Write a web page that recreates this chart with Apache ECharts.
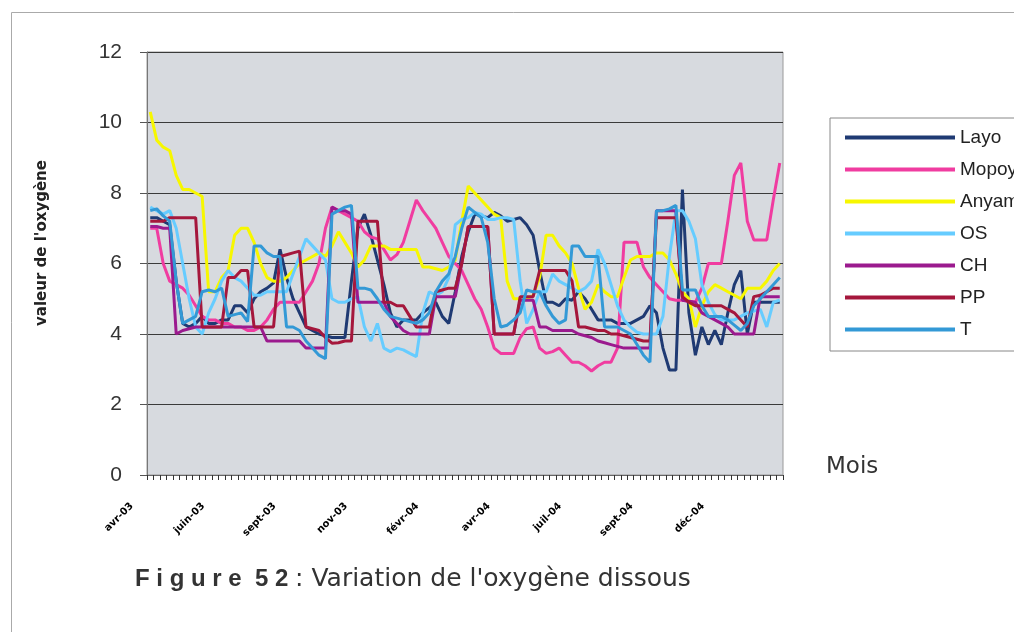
<!DOCTYPE html>
<html>
<head>
<meta charset="utf-8">
<script src="https://cdn.jsdelivr.net/npm/echarts@6/dist/echarts.min.js"></script>
<style>
  html, body { margin: 0; padding: 0; background: #fff; }
  #app { width: 1014px; height: 632px; }
</style>
</head>
<body>
<div id="app"></div>
<script>
// étiquettes des mois (une tous les 11 relevés)
const moisLabels = ['avr-03', 'juin-03', 'sept-03', 'nov-03', 'févr-04', 'avr-04', 'juil-04', 'sept-04', 'déc-04'];
const pasMois = 11;
const nbReleves = 98;

// valeurs de l'oxygène dissous par station
const layo = [7.3,7.3,7.2,7.1,5.5,4.3,4.2,4.3,4.5,4.3, 4.3,4.4,4.4,4.8,4.8,4.6,5.0,5.2,5.3,5.45, 6.4,5.6,5.0,4.6,4.2,4.1,4.0,3.95,3.9,3.9, 3.9,5.5,7.0,7.4,6.8,6.1,5.4,4.6,4.2,4.4, 4.4,4.4,4.6,4.75,4.9,4.5,4.3,5.2,6.2,6.9, 7.4,7.35,7.3,7.45,7.35,7.2,7.25,7.3,7.1,6.8, 5.8,4.9,4.9,4.8,5.0,4.96,5.2,5.0,4.7,4.4, 4.4,4.4,4.3,4.3,4.3,4.4,4.5,4.8,4.6,3.6, 2.98,2.98,8.1,4.6,3.4,4.2,3.7,4.1,3.7,4.6, 5.4,5.8,4.0,4.9,4.9,4.9,4.9,4.9];
const mop = [7.0,7.0,6.0,5.5,5.4,5.3,5.1,4.8,4.5,4.4, 4.4,4.3,4.3,4.2,4.2,4.1,4.1,4.2,4.4,4.7, 4.9,4.9,4.9,4.9,5.2,5.5,6.0,7.0,7.6,7.5, 7.4,7.3,7.2,6.9,6.75,6.7,6.4,6.1,6.25,6.6, 7.2,7.8,7.5,7.25,7.0,6.6,6.2,6.0,5.8,5.4, 5.0,4.7,4.2,3.6,3.45,3.45,3.45,3.9,4.15,4.2, 3.6,3.45,3.5,3.6,3.4,3.2,3.2,3.1,2.95,3.1, 3.2,3.2,3.6,6.6,6.6,6.6,5.9,5.6,5.4,5.2, 5.0,4.96,4.96,4.93,4.9,5.3,6.0,6.0,6.0,7.2, 8.5,8.85,7.2,6.67,6.67,6.67,7.8,8.85];
const any = [10.3,9.5,9.3,9.2,8.5,8.1,8.1,8.0,7.9,5.2, 5.2,5.6,5.8,6.8,7.0,7.0,6.6,6.0,5.6,5.5, 5.5,5.6,5.8,6.0,6.1,6.2,6.3,6.2,6.5,6.9, 6.6,6.3,5.9,6.1,6.5,6.5,6.5,6.4,6.4,6.4, 6.4,6.4,5.9,5.9,5.85,5.8,5.9,6.1,7.2,8.2, 8.0,7.8,7.6,7.4,7.3,5.5,5.0,5.0,5.0,5.1, 5.6,6.8,6.8,6.5,6.3,6.0,5.3,4.7,4.9,5.4, 5.2,5.06,5.06,5.6,6.1,6.2,6.2,6.2,6.3,6.3, 6.1,5.7,5.2,5.0,4.2,4.8,5.2,5.4,5.3,5.2, 5.1,5.0,5.3,5.3,5.3,5.5,5.8,6.0];
const os = [7.6,7.5,7.4,7.5,7.0,6.0,5.0,4.2,4.0,4.6, 5.0,5.5,5.8,5.6,5.5,5.3,5.1,5.1,5.2,5.2, 5.2,5.2,5.7,6.2,6.7,6.5,6.3,6.1,5.0,4.9, 4.9,5.0,5.06,4.2,3.8,4.3,3.6,3.5,3.6,3.55, 3.45,3.36,4.6,5.2,5.1,5.2,5.6,7.1,7.25,7.3, 7.45,7.4,7.25,7.25,7.3,7.3,7.25,5.5,4.3,4.7, 5.2,5.2,5.7,5.5,5.4,5.3,5.2,5.3,5.5,6.4, 6.0,5.4,4.8,4.4,4.2,4.05,4.0,4.0,4.0,4.5, 6.2,7.5,7.5,7.2,6.7,5.4,4.9,4.55,4.4,4.4, 4.4,4.5,4.6,4.65,4.7,4.2,4.9,4.96];
const ch = [7.05,7.05,7.0,7.0,4.0,4.1,4.15,4.2,4.2,4.2, 4.2,4.2,4.2,4.2,4.2,4.2,4.2,4.2,3.8,3.8, 3.8,3.8,3.8,3.8,3.6,3.6,3.6,3.6,7.6,7.5, 7.5,7.4,4.9,4.9,4.9,4.9,4.9,4.5,4.3,4.1, 4.0,4.0,4.0,4.0,5.06,5.06,5.06,5.06,6.0,7.05, 7.05,7.05,7.05,4.0,4.0,4.0,4.0,4.96,4.96,4.96, 4.2,4.2,4.1,4.1,4.1,4.1,4.0,3.95,3.9,3.8, 3.75,3.7,3.65,3.6,3.6,3.6,3.6,3.6,7.5,7.5, 7.5,7.5,4.96,4.93,4.9,4.6,4.5,4.4,4.3,4.2, 4.0,4.0,4.0,4.0,5.06,5.06,5.06,5.06];
const pp = [7.2,7.2,7.2,7.3,7.3,7.3,7.3,7.3,4.2,4.2, 4.2,4.2,5.6,5.6,5.8,5.8,4.2,4.2,4.2,4.2, 6.2,6.25,6.3,6.35,4.2,4.15,4.1,3.9,3.74,3.75, 3.8,3.8,7.2,7.2,7.2,7.2,4.9,4.9,4.8,4.8, 4.5,4.2,4.2,4.2,5.2,5.25,5.3,5.3,6.0,7.05, 7.05,7.05,7.05,4.0,4.0,4.0,4.0,5.06,5.06,5.06, 5.8,5.8,5.8,5.8,5.8,5.5,4.2,4.2,4.15,4.1, 4.1,4.0,4.0,3.95,3.9,3.85,3.8,3.8,7.3,7.3, 7.3,7.3,5.06,4.9,4.8,4.8,4.8,4.8,4.8,4.7, 4.6,4.4,4.2,5.06,5.1,5.2,5.3,5.3];
const t = [7.5,7.55,7.35,7.2,5.5,4.3,4.4,4.5,5.2,5.25, 5.2,5.3,4.5,4.55,4.6,4.35,6.5,6.5,6.3,6.2, 6.2,4.2,4.2,4.1,3.8,3.6,3.4,3.3,7.4,7.5, 7.6,7.65,5.3,5.3,5.25,5.0,4.7,4.5,4.45,4.4, 4.35,4.3,4.4,4.6,5.2,5.5,5.7,6.2,7.0,7.6, 7.45,7.3,6.6,5.0,4.2,4.25,4.4,4.6,5.25,5.2, 5.2,4.8,4.5,4.3,4.4,6.5,6.5,6.2,6.2,6.2, 4.2,4.2,4.2,4.1,4.0,3.7,3.4,3.2,7.5,7.5, 7.55,7.65,5.25,5.25,5.25,4.8,4.5,4.5,4.5,4.4, 4.25,4.1,4.3,4.8,5.0,5.2,5.4,5.6];

const stations = ['Layo', 'Mopoyem', 'Anyama', 'OS', 'CH', 'PP', 'T'];
const couleurs = ['#1f3a73', '#f03ca0', '#f7f700', '#66ccff', '#9b1a8e', '#a5173c', '#3399d6'];
const valeurs = [layo, mop, any, os, ch, pp, t];

// catégories de l'axe des x
const categories = [];
for (let i = 0; i < nbReleves; i++) {
    categories.push(i % pasMois === 0 ? (moisLabels[i / pasMois] || '') : '');
}

const chart = echarts.init(document.getElementById('app'));
chart.setOption({
    animation: false,
    backgroundColor: '#fff',
    grid: {
        left: 147, right: 231, top: 52, bottom: 157,
        show: true,
        backgroundColor: '#d7dadf',
        borderColor: '#9a9a9a',
        borderWidth: 1
    },
    legend: {
        orient: 'vertical',
        left: 830,
        top: 118,
        padding: [10, 40, 12, 15],
        icon: 'rect',
        itemWidth: 110,
        itemHeight: 4,
        itemGap: 13,
        backgroundColor: '#fff',
        borderColor: '#888',
        borderWidth: 1,
        textStyle: { fontSize: 19, color: '#222', fontFamily: 'Liberation Sans' },
        data: stations
    },
    xAxis: {
        type: 'category',
        data: categories,
        boundaryGap: true,
        axisLine: { lineStyle: { color: '#666' } },
        axisTick: { show: true, interval: 0, length: 5, lineStyle: { color: '#333' } },
        axisLabel: {
            interval: 0,
            rotate: 45,
            margin: 11,
            padding: [0, 26, 0, 0],
            fontSize: 10,
            fontWeight: 'bold',
            color: '#000',
            fontFamily: 'DejaVu Sans'
        },
        splitLine: { show: false }
    },
    yAxis: {
        type: 'value',
        min: 0, max: 12, interval: 2,
        axisLine: { show: true, lineStyle: { color: '#777' } },
        axisTick: { show: true, length: 7, lineStyle: { color: '#555' } },
        axisLabel: { fontSize: 21, color: '#333', margin: 25, fontFamily: 'Liberation Sans' },
        splitLine: { lineStyle: { color: '#3a3a3a', width: 1 } }
    },
    series: stations.map(function(nom, k) {
        return {
            name: nom,
            type: 'line',
            data: valeurs[k],
            symbol: 'none',
            color: couleurs[k],
            lineStyle: { width: 3, color: couleurs[k] }
        };
    }),
    graphic: [
        {
            type: 'rect',
            shape: { x: 11.5, y: 12.5, width: 1100, height: 700 },
            style: { fill: 'none', stroke: '#aaa', lineWidth: 1 },
            z: -1
        },
        {
            type: 'text',
            x: 42, y: 243,
            rotation: Math.PI / 2,
            style: {
                text: "valeur de l'oxygène",
                fontSize: 15, fontWeight: 'bold', fill: '#222',
                fontFamily: 'DejaVu Sans',
                align: 'center', verticalAlign: 'middle'
            }
        },
        {
            type: 'text',
            left: 826, top: 456,
            style: { text: 'Mois', fontSize: 23, fill: '#333', fontFamily: 'DejaVu Sans' }
        },
        {
            type: 'text',
            left: 135, top: 567,
            style: {
                text: '{b|F i g u r e  5 2}  {n|: Variation de l\'oxygène dissous}',
                rich: {
                    b: { fontSize: 24, fontWeight: 'bold', fill: '#333', fontFamily: 'Liberation Sans' },
                    n: { fontSize: 25, fill: '#333', fontFamily: 'DejaVu Sans' }
                }
            }
        }
    ]
});
</script>
</body>
</html>
